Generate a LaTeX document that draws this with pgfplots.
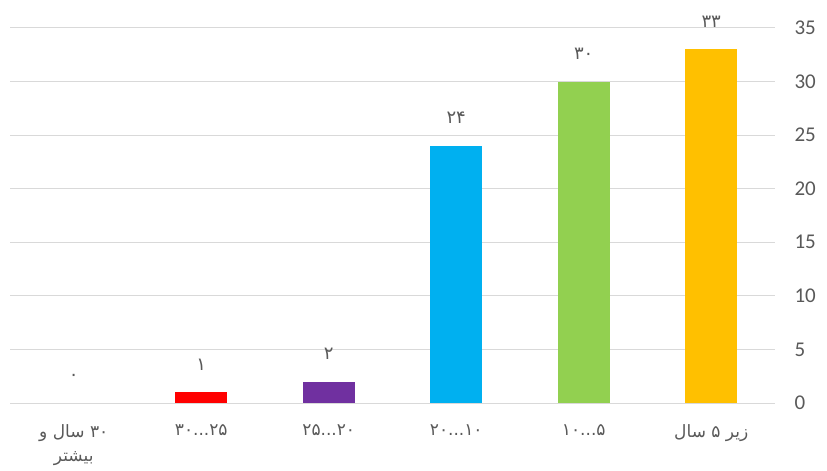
\documentclass[border=0pt]{standalone}
\usepackage{fontspec}
\setmainfont{Carlito}
\newfontfamily\fa[Script=Arabic]{DejaVu Sans}
\TeXXeTstate=1
\usepackage{pgfplots}
\pgfplotsset{compat=1.18}
\usetikzlibrary{calc}
\newcommand{\ddd}{...}
\definecolor{txt}{HTML}{595959}
\definecolor{grd}{HTML}{D9D9D9}
\definecolor{cY}{HTML}{FFC000}
\definecolor{cG}{HTML}{92D050}
\definecolor{cB}{HTML}{00B0F0}
\definecolor{cP}{HTML}{7030A0}
\definecolor{cR}{HTML}{FF0000}
\begin{document}
\begin{tikzpicture}
\begin{axis}[
  scale only axis,
  width=765pt, height=375pt,
  xmin=-0.5, xmax=5.5, x dir=reverse,
  ymin=0, ymax=35, ytick={0,5,10,15,20,25,30,35},
  yticklabel pos=right,
  xtick={0,1,2,3,4,5},
  xticklabels={
    {\fa\beginR زیر ۵ سال\endR},
    {\fa ۵\ddd ۱۰},
    {\fa ۱۰\ddd ۲۰},
    {\fa ۲۰\ddd ۲۵},
    {\fa ۲۵\ddd ۳۰},
    {\fa\beginR ۳۰ سال و\endR\\\fa\beginR بیشتر\endR}},
  xticklabel style={align=center, font=\fontsize{17}{24}\selectfont, text=txt, yshift=-18pt},
  yticklabel style={font=\fontsize{21}{24}\selectfont, text=txt, xshift=16pt},
  /pgf/number format/assume math mode=true,
  major tick length=0pt,
  axis line style={draw=none},
  ymajorgrids, major grid style={draw=grd, line width=1pt},
  clip=false,
  every node near coord/.append style={font=\fa\fontsize{18}{20}\selectfont, text=txt, anchor=south, inner sep=0pt, yshift=22pt},
]
\addplot[ybar, bar width=52pt, bar shift=0pt, fill=cY, draw=none, nodes near coords={۳۳}] coordinates {(0,33)};
\addplot[ybar, bar width=52pt, bar shift=0pt, fill=cG, draw=none, nodes near coords={۳۰}] coordinates {(1,30)};
\addplot[ybar, bar width=52pt, bar shift=0pt, fill=cB, draw=none, nodes near coords={۲۴}] coordinates {(2,24)};
\addplot[ybar, bar width=52pt, bar shift=0pt, fill=cP, draw=none, nodes near coords={۲}] coordinates {(3,2)};
\addplot[ybar, bar width=52pt, bar shift=0pt, fill=cR, draw=none, nodes near coords={۱}] coordinates {(4,1)};
\addplot[ybar, bar width=52pt, bar shift=0pt, fill=none, draw=none, nodes near coords={۰}] coordinates {(5,0)};
\end{axis}
\pgfresetboundingbox
\path ($(current axis.south west)+(-10pt,-68pt)$) rectangle ($(current axis.north east)+(52pt,28pt)$);
\end{tikzpicture}
\end{document}
